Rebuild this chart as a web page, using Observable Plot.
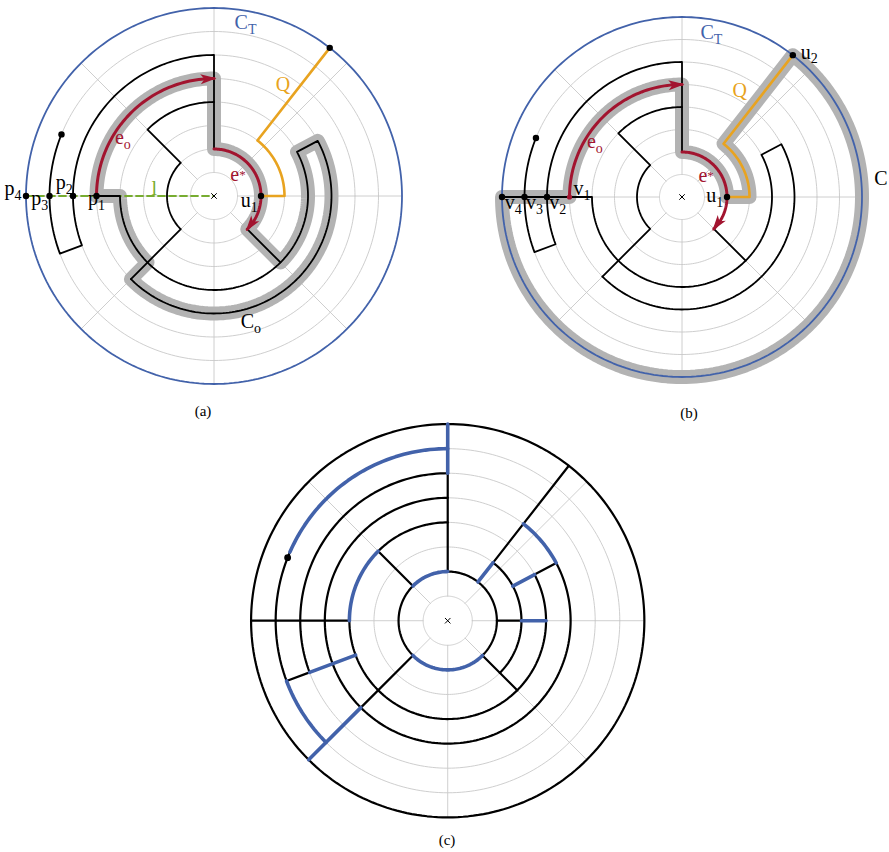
<!DOCTYPE html>
<html><head><meta charset="utf-8">
<script src="https://cdn.jsdelivr.net/npm/d3@7"></script>
<script src="https://cdn.jsdelivr.net/npm/@observablehq/plot@0.6"></script>
<style>
body{margin:0;background:#fff;width:889px;height:852px;position:relative;overflow:hidden;font-family:"Liberation Serif","Times New Roman",serif;}
.panel{position:absolute;}
.cap{position:absolute;font-size:15px;transform:translate(-50%,-50%);white-space:nowrap;}
</style></head><body>
<div id="pa" class="panel"></div>
<div id="pb" class="panel"></div>
<div id="pc" class="panel"></div>
<div class="cap" style="left:203px;top:411px">(a)</div>
<div class="cap" style="left:689px;top:413px">(b)</div>
<div class="cap" style="left:447px;top:840px">(c)</div>
<script>
const RED="#A2142F", ORANGE="#E8A320", GREEN="#77AC30", BLUE="#4262AA", BAND="#b3b3b3", GRID="#c8c8c8";

// grid (polar units)
const gridRadii=[1,2,3,4,5,6,7];
const spokeAngles=[0,45,90,135,180,225,270,315];
const spokeInner=1, spokeOuter=8, boundaryRadius=8;

// ---- panel (a): paths as [radius, angle°] vertices
const aWalls=[
 [[7,158],[7,200.5],[6,200.5],[6,90],[2,90]],
 [[4,90],[4,135],[2,135],[2,225],[5,225]],
 [[5,180],[4,180],[4,388],[5,388],[5,225]],
 [[2,315],[4,315]]
];
const aBand=[[5,180],[5,90],[2,90],[2,-45],[4,-45],[4,28],[5,28],[5,-135],[4,-135],[4,-180],[5,-180]];
const aEo=[[5,180],[5,90]];
const aEstar=[[2,90],[2,-45]];
const aQ=[[2,0],[3,0],[3,52],[8,52]];
const aLine=[[8,180],[0,180]];
const aDots=[[5,180],[6,180],[7,180],[8,180],[2,0],[7,158],[8,52]];
const aArrows=[[5,90],[2,-45]];
const aLabels=[
 {t:"C_T",x:1.34,y:7.37,c:BLUE},{t:"Q",x:2.94,y:4.72,c:ORANGE},
 {t:"e_o",x:-3.88,y:2.5,c:RED},{t:"e^*",x:1.02,y:0.9,c:RED},
 {t:"u_1",x:1.5,y:-0.2,c:"black"},{t:"C_o",x:1.57,y:-5.35,c:"black"},
 {t:"l",x:-2.54,y:0.32,c:GREEN},
 {t:"p_1",x:-5.0,y:-0.1,c:"black"},{t:"p_2",x:-6.37,y:0.57,c:"black"},
 {t:"p_3",x:-7.41,y:-0.1,c:"black"},{t:"p_4",x:-8.55,y:0.31,c:"black"}
];

// ---- panel (b)
const bWalls=[
 [[7,158],[7,200.5],[6,200.5],[6,90],[2,90]],
 [[4,90],[4,135],[2,135],[2,225],[5,225]],
 [[8,180],[4,180],[4,388],[5,388],[5,225]],
 [[2,315],[4,315]]
];
const bBand=[[5,180],[5,90],[2,90],[2,0],[3,0],[3,52],[8,52],[8,-180],[5,-180]];
const bEo=[[5,180],[5,90]];
const bEstar=[[2,90],[2,-45]];
const bQ=[[2,0],[3,0],[3,52],[8,52]];
const bDots=[[6,180],[7,180],[8,180],[2,0],[8,52],[7,158]];
const bRedDots=[[5,180]];
const bArrows=[[5,90],[2,-45]];
const bLabels=[
 {t:"C_T",x:1.31,y:7.32,c:BLUE},{t:"Q",x:2.57,y:4.73,c:ORANGE},
 {t:"e_o",x:-3.87,y:2.45,c:RED},{t:"e^*",x:1.07,y:0.95,c:RED},
 {t:"u_1",x:1.45,y:0.07,c:"black"},{t:"u_2",x:5.65,y:6.44,c:"black"},
 {t:"C",x:8.84,y:0.82,c:"black"},
 {t:"v_1",x:-4.45,y:0.37,c:"black"},{t:"v_2",x:-5.52,y:-0.25,c:"black"},
 {t:"v_3",x:-6.56,y:-0.25,c:"black"},{t:"v_4",x:-7.5,y:-0.25,c:"black"}
];

// ---- panel (c)
const cBlack=[
 [[8,0],[8,360]],
 [[2,-45],[2,90]],[[2,135],[2,225]],
 [[2,90],[6,90]],
 [[7,156.5],[7,200.5],[6,200.5]],
 [[6,90],[6,200.5]],
 [[5,90],[5,225]],[[5,28],[5,-135]],
 [[2,225],[5,225]],
 [[4,180],[8,180]],
 [[4,90],[4,135]],[[4,180],[4,388]],
 [[2,135],[4,135]],[[2,315],[4,315]],
 [[3,52],[3,-45]],[[3,52],[8,52]],
 [[4,28],[5,28]],[[2,0],[3,0]]
];
const cBlue=[
 [[2,90],[2,135]],[[2,225],[2,315]],
 [[6,90],[8,90]],
 [[7,90],[7,156.5]],[[7,200.5],[7,225]],
 [[4,200.5],[6,200.5]],
 [[5,28],[5,52]],[[5,225],[8,225]],
 [[4,135],[4,180]],
 [[2,52],[3,52]],[[3,28],[4,28]],[[3,0],[4,0]]
];
const cDots=[[7,158.5]];

// ---- helpers
function pol(r,deg){const a=deg*Math.PI/180;return [r*Math.cos(a),r*Math.sin(a)];}
function expand(path){
  const pts=[];
  path.forEach(([r,t],i)=>{
    if(i>0){const [r0,t0]=path[i-1];
      if(r0===r&&t0!==t){const n=Math.max(2,Math.ceil(Math.abs(t-t0)/1.5));
        for(let k=1;k<n;k++)pts.push(pol(r,t0+(t-t0)*k/n));}}
    pts.push(pol(r,t));
  });
  return pts;
}
function rows(paths){const out=[];paths.forEach((p,i)=>expand(p).forEach(([x,y])=>out.push({x,y,id:i})));return out;}
const L=(paths,o)=>Plot.line(rows(paths),{x:"x",y:"y",z:"id",...o});
const P=(pts)=>pts.map(([r,t])=>{const [x,y]=pol(r,t);return {x,y};});
function gridMarks(){
  const circles=gridRadii.map(r=>[[r,0],[r,360]]);
  const spokes=spokeAngles.map(a=>[[spokeInner,a],[spokeOuter,a]]);
  return L([...circles,...spokes],{stroke:GRID,strokeWidth:0.9});
}
const stealth={draw(ctx){ctx.moveTo(0,-2.5);ctx.lineTo(5,13.5);ctx.lineTo(0,9.5);ctx.lineTo(-5,13.5);ctx.closePath();}};
function arrowMarks(arr,unit){
  const data=arr.map(([r,t])=>{const [x,y]=pol(r,t);const half=(7/(r*unit))*180/Math.PI;return {x,y,rot:180-t-half};});
  return Plot.dot(data,{x:"x",y:"y",symbol:stealth,rotate:"rot",fill:RED,stroke:"none",r:5});
}
const center=()=>Plot.dot([{x:0,y:0}],{x:"x",y:"y",symbol:"times",r:2.6,stroke:"black",strokeWidth:1});
const labelMark=(labs)=>Plot.text(labs,{x:"x",y:"y",text:"t",fill:d=>d.c,fontSize:20,fontFamily:"Liberation Serif, Times New Roman, serif"});
const ns="http://www.w3.org/2000/svg";
function subscriptify(svg){
  svg.querySelectorAll("text").forEach(t=>{
    const m=t.textContent.match(/^([^_^]+)([_^])(.+)$/);
    if(!m)return;
    t.textContent="";
    const a=document.createElementNS(ns,"tspan");a.textContent=m[1];t.appendChild(a);
    const b=document.createElementNS(ns,"tspan");b.textContent=m[3];
    b.setAttribute("font-size",m[2]==="_"?"0.7em":"0.65em");b.setAttribute("dy",m[2]==="_"?"0.35em":"-0.15em");
    t.appendChild(b);
  });
}
function panel(id,unit,cx,cy,marks){
  const size=18*unit;
  const fig=Plot.plot({width:size,height:size,margin:0,
    x:{domain:[-9,9],axis:null},y:{domain:[-9,9],axis:null},color:{type:"identity"},
    style:{overflow:"visible",background:"transparent",maxWidth:"none"},marks});
  subscriptify(fig);
  const div=document.getElementById(id);
  div.style.left=(cx-size/2)+"px";div.style.top=(cy-size/2)+"px";
  div.appendChild(fig);
}

// (a)
const uA=23.5;
panel("pa",uA,213,195,[
  gridMarks(),
  L([aBand],{stroke:BAND,strokeWidth:14,strokeLinejoin:"round",strokeLinecap:"round"}),
  L([aLine],{stroke:GREEN,strokeWidth:1.8,strokeDasharray:"7,4"}),
  L(aWalls,{stroke:"black",strokeWidth:1.8}),
  L([[[boundaryRadius,0],[boundaryRadius,360]]],{stroke:BLUE,strokeWidth:1.8}),
  L([aQ],{stroke:ORANGE,strokeWidth:2.6}),
  L([aEo,aEstar],{stroke:RED,strokeWidth:3}),
  arrowMarks(aArrows,uA),
  Plot.dot(P(aDots),{x:"x",y:"y",r:3.2,fill:"black"}),
  center(),
  labelMark(aLabels)
]);

// (b)
const uB=22.5;
panel("pb",uB,681,196.5,[
  gridMarks(),
  L([bBand],{stroke:BAND,strokeWidth:14,strokeLinejoin:"round",strokeLinecap:"round"}),
  L([[[boundaryRadius,0],[boundaryRadius,360]]],{stroke:BLUE,strokeWidth:1.8}),
  L(bWalls,{stroke:"black",strokeWidth:1.8}),
  L([bQ],{stroke:ORANGE,strokeWidth:2.6}),
  L([bEo,bEstar],{stroke:RED,strokeWidth:3}),
  arrowMarks(bArrows,uB),
  Plot.dot(P(bDots),{x:"x",y:"y",r:3.2,fill:"black"}),
  Plot.dot(P(bRedDots),{x:"x",y:"y",r:2.6,fill:RED}),
  center(),
  labelMark(bLabels)
]);

// (c)
const uC=24.58;
panel("pc",uC,447.7,620,[
  gridMarks(),
  L(cBlack,{stroke:"black",strokeWidth:2.2}),
  L(cBlue,{stroke:BLUE,strokeWidth:3.6}),
  Plot.dot(P(cDots),{x:"x",y:"y",r:3.4,fill:"black"}),
  center()
]);
</script>
</body></html>
